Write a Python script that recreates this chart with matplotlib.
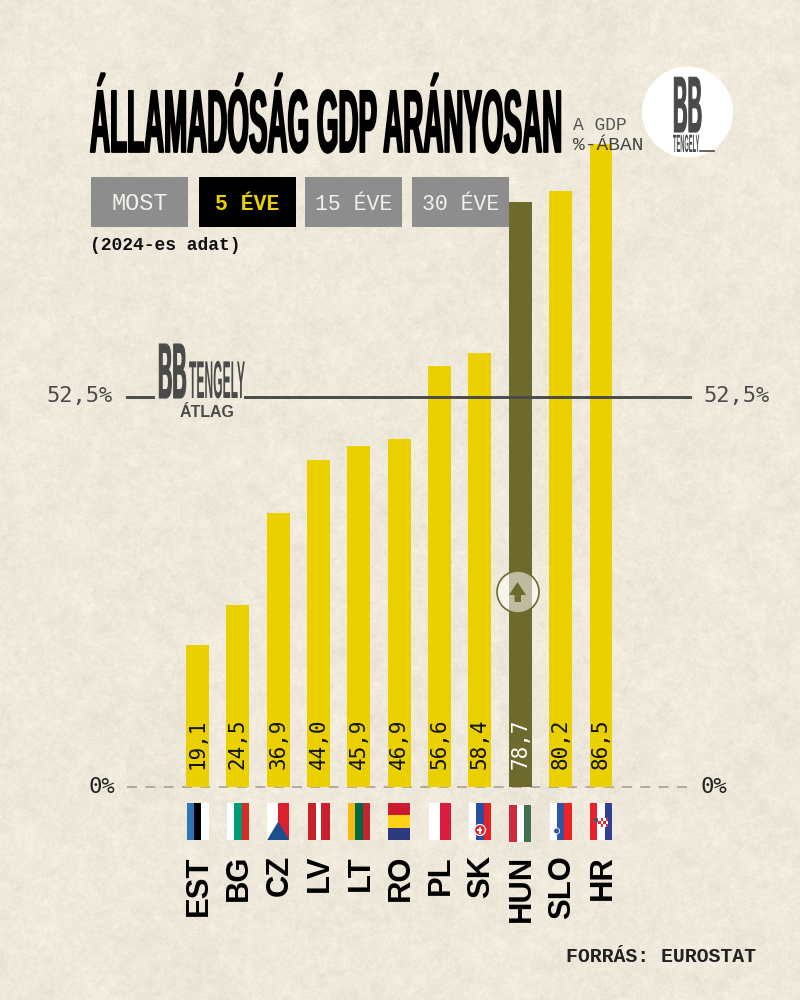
import matplotlib
matplotlib.use("Agg")
import matplotlib.pyplot as plt
import matplotlib.patheffects as pe
from matplotlib.patches import Rectangle, Circle, Polygon
from matplotlib.transforms import Affine2D
import numpy as np

countries = ["EST", "BG", "CZ", "LV", "LT", "RO", "PL", "SK", "HUN", "SLO", "HR"]
debt = [19.1, 24.5, 36.9, 44.0, 45.9, 46.9, 56.6, 58.4, 78.7, 80.2, 86.5]
value_labels = ["19,1", "24,5", "36,9", "44,0", "45,9", "46,9", "56,6", "58,4", "78,7", "80,2", "86,5"]
average = 52.5
buttons = ["MOST", "5 ÉVE", "15 ÉVE", "30 ÉVE"]

# flag stripes, left to right (RO goes top to bottom), all equal width
flags = [
    ["#2e75b8", "#000000", "#ffffff"],
    ["#ffffff", "#009b74", "#d62b27"],
    ["#ffffff", "#dd2030"],
    ["#c8202c", "#c8202c", "#ffffff", "#c8202c", "#c8202c"],
    ["#fdb913", "#006a44", "#c1272d"],
    ["#ce1a2e", "#fcd116", "#2b3a80"],
    ["#ffffff", "#dc1c3c"],
    ["#ffffff", "#2a4fa0", "#e8202a"],
    ["#cd2a3e", "#ffffff", "#436f4d"],
    ["#ffffff", "#2f55a4", "#ee2224"],
    ["#e8202a", "#ffffff", "#333f95"],
]

PAPER = "#efe9db"
YELLOW = "#ebd000"
OLIVE = "#6e6a2e"
DARK = "#4a4a4a"
GREY = "#8d8d8d"


class Stretch(pe.AbstractPathEffect):
    # pull small text up from its baseline, gives the tall condensed look
    def __init__(self, sy, y_px, stroke=0):
        super().__init__()
        self.sy = sy
        self.y0 = 1000 - y_px
        self.stroke = stroke

    def draw_path(self, renderer, gc, tpath, affine, rgbFace=None):
        aff = affine + Affine2D().translate(0, -self.y0).scale(1, self.sy).translate(0, self.y0)
        gc0 = renderer.new_gc()
        gc0.copy_properties(gc)
        gc0.set_linewidth(self.stroke)
        if self.stroke:
            gc0.set_foreground(rgbFace)
        renderer.draw_path(gc0, tpath, aff, rgbFace)
        gc0.restore()


fig = plt.figure(figsize=(8, 10), dpi=100, facecolor=PAPER)

# paper grain, only a background: soft filtered noise
rng = np.random.default_rng(7)
fy = np.fft.fftfreq(1000)[:, None]
fx = np.fft.fftfreq(800)[None, :]
spectrum = np.fft.fft2(rng.normal(size=(1000, 800))) / (np.sqrt(fx ** 2 + fy ** 2) + 0.01)
grain = np.fft.ifft2(spectrum).real
grain = grain / grain.std() * 3.0
base = np.array([0xef, 0xe9, 0xdb], dtype=float)
paper = np.clip(base + grain[..., None], 0, 255).astype(np.uint8)
bg = fig.add_axes([0, 0, 1, 1], zorder=0)
bg.imshow(paper, aspect="auto", interpolation="nearest")
bg.axis("off")

# overlay in reference pixels for the decoration
deco = fig.add_axes([0, 0, 1, 1], zorder=3)
deco.patch.set_alpha(0)
deco.set_xlim(0, 800)
deco.set_ylim(1000, 0)
deco.axis("off")

# chart axes: 0 sits at y=787px, 7.43 px per percent, 40.35 px per bar
ax = fig.add_axes([0, 0, 1, 1], zorder=2)
ax.patch.set_alpha(0)
ax.set_xlim(-197.5 / 40.35, (800 - 197.5) / 40.35)
ax.set_ylim(-213 / 7.43, 787 / 7.43)
ax.axis("off")

x = np.arange(len(debt))
colors = [OLIVE if c == "HUN" else YELLOW for c in countries]
ax.bar(x, debt, width=0.57, color=colors, zorder=2)

# zero line and average line
px = lambda v: (v - 197.5) / 40.35
ax.plot([px(127), px(690)], [0, 0], color="#a09a8e", lw=1.1, dashes=(6.5, 5.5), zorder=1)
ax.plot([px(127), px(153)], [average, average], color=DARK, lw=2.1, zorder=3)
ax.plot([px(245), px(690)], [average, average], color=DARK, lw=2.1, zorder=3)

for i, lab in enumerate(value_labels):
    ax.text(i, 2.4, lab, rotation=90, ha="center", va="bottom", family="DejaVu Sans Mono",
            fontsize=15, color="white" if countries[i] == "HUN" else "#111111", zorder=4)

# axis value labels
for xp, ha in [(113, "right"), (703, "left")]:
    deco.text(xp, 396, "52,5%", ha=ha, va="center", family="DejaVu Sans Mono", fontsize=15.8, color=DARK)
for xp, ha in [(115, "right"), (700, "left")]:
    deco.text(xp, 787, "0%", ha=ha, va="center", family="DejaVu Sans Mono", fontsize=16, color="#222222")

# title
title = deco.text(90, 152, "ÁLLAMADÓSÁG GDP ARÁNYOSAN", ha="left", va="baseline", family="Liberation Sans",
                  weight="bold", fontsize=20, color="#000000")
title.set_path_effects([Stretch(3.2, 152, stroke=1.3)])

deco.text(573, 125, "A GDP", ha="left", va="center", family="Liberation Mono", fontsize=13, color="#555555")
deco.text(573, 146, "%-ÁBAN", ha="left", va="center", family="Liberation Mono", fontsize=14, color="#444444")

# logo top right
deco.add_patch(Circle((687.5, 112), 45.5, color="white", lw=0, zorder=2))
bb = deco.text(673, 132, "BB", ha="left", va="baseline", family="Liberation Sans", weight="bold",
               fontsize=14.5, color=DARK, zorder=3)
bb.set_path_effects([Stretch(3.95, 132, stroke=0.8)])
tg = deco.text(673, 152, "TENGELY", ha="left", va="baseline", family="Liberation Sans", weight="bold",
               fontsize=4.1, color=DARK, zorder=3)
tg.set_path_effects([Stretch(4.4, 152)])
deco.plot([700, 714], [151.3, 151.3], color=DARK, lw=1.2, zorder=3)

# logo at the average line
bb2 = deco.text(158, 398, "BB", ha="left", va="baseline", family="Liberation Sans", weight="bold",
                fontsize=14.3, color=DARK)
bb2.set_path_effects([Stretch(3.95, 398, stroke=0.8)])
tg2 = deco.text(189, 398, "TENGELY", ha="left", va="baseline", family="Liberation Sans", weight="bold",
                fontsize=8.7, color=DARK)
tg2.set_path_effects([Stretch(4.4, 398)])
deco.text(207.5, 412.5, "ÁTLAG", ha="center", va="center", family="Liberation Sans", weight="bold",
          fontsize=11.5, color=DARK)

# buttons
button_left = [91, 199, 305, 412]
for i, b in enumerate(buttons):
    active = b == "5 ÉVE"
    deco.add_patch(Rectangle((button_left[i], 177), 97, 50, color="#000000" if active else GREY, lw=0))
    deco.text(button_left[i] + 48.5, 204, b, ha="center", va="center", family="Liberation Mono",
              fontsize=17 if b == "MOST" else 15.5, weight="bold" if active else "normal",
              color=YELLOW if active else "#f2f0ea")
deco.text(90, 245, "(2024-es adat)", ha="left", va="center", family="Liberation Mono", fontsize=13,
          weight="bold", color="#111111")

# arrow circle on the HUN bar
deco.add_patch(Circle((518, 592), 21, facecolor=(1, 1, 1, 0.55), edgecolor=OLIVE, lw=1.2))
deco.add_patch(Polygon([(517.5, 582), (526, 595), (521, 595), (521, 602), (514.5, 602), (514.5, 595), (509, 595)],
                       color=OLIVE, lw=0))

# flags and country codes
centers = 197.5 + 40.35 * x
for i, cols in enumerate(flags):
    cx = centers[i]
    fw, fh = 22, 37
    top = 805 if countries[i] == "HUN" else 803
    n = len(cols)
    for j, c in enumerate(cols):
        if countries[i] == "RO":
            deco.add_patch(Rectangle((cx - fw / 2, top + j * fh / n), fw, fh / n, color=c, lw=0))
        else:
            deco.add_patch(Rectangle((cx - fw / 2 + j * fw / n, top), fw / n, fh, color=c, lw=0))
    if countries[i] == "CZ":
        deco.add_patch(Polygon([(cx - fw / 2, top + fh), (cx + fw / 2, top + fh), (cx, top + fh / 2)],
                               color="#1d4f8c", lw=0))
    if countries[i] == "SK":
        deco.add_patch(Circle((cx, top + 27), 5.5, facecolor="#e8202a", edgecolor="white", lw=0.9))
        deco.add_patch(Rectangle((cx - 0.8, top + 23.5), 1.6, 7, color="white", lw=0))
        deco.add_patch(Rectangle((cx - 2.5, top + 26), 5, 1.5, color="white", lw=0))
    if countries[i] == "SLO":
        deco.add_patch(Circle((cx - 4, top + 28), 3, facecolor="#2f55a4", edgecolor="white", lw=0.6))
    if countries[i] == "HR":
        for r in range(3):
            for q in range(4):
                deco.add_patch(Rectangle((cx - 3 + q * 2.5, top + 15 + r * 3), 2.5, 3,
                                         color="#d9303a" if (r + q) % 2 else "white", lw=0))
        deco.add_patch(Rectangle((cx - 7, top + 15), 4, 4, color="#555566", lw=0))
    deco.text(cx + 1.5, 855, countries[i], rotation=90, ha="center", va="top", family="Liberation Sans",
              weight="bold", fontsize=22.3, color="#000000")

deco.text(756, 956, "FORRÁS: EUROSTAT", ha="right", va="center", family="Liberation Mono", weight="bold",
          fontsize=14.3, color="#222222")

fig.savefig("out.png", dpi=100, facecolor=PAPER)
